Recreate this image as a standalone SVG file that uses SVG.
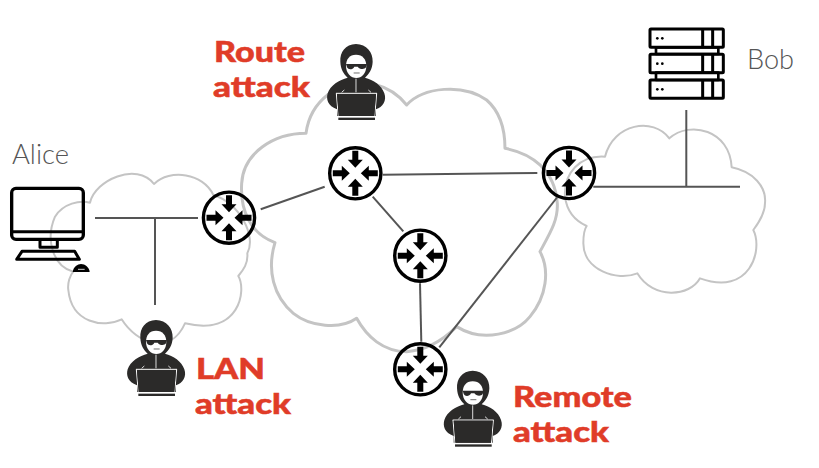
<svg xmlns="http://www.w3.org/2000/svg" xmlns:xlink="http://www.w3.org/1999/xlink" width="819" height="468" viewBox="0 0 819 468">
<style>
.cloud{fill:none;stroke:#c4c4c4;stroke-linejoin:round}
.link{fill:none;stroke:#555;stroke-width:2}
.name{font-family:Lato,"Open Sans",sans-serif;font-weight:300;font-size:28px;fill:#555}
.atk{font-family:Lato,"Open Sans",sans-serif;font-weight:900;font-size:28.500px;fill:#e03c28;stroke:#e03c28;stroke-width:.5}
.ic{fill:none;stroke:#000;stroke-linejoin:round}
</style>
<defs>
<g id="router">
<circle r="25.600" fill="none" stroke="#000" stroke-width="3.400"/>
<g id="ar"><path d="M-3,-22.500H3V-13.500H7.500L0,-5.500L-7.500,-13.500H-3Z" fill="#000"/></g>
<use xlink:href="#ar" transform="rotate(90)"/>
<use xlink:href="#ar" transform="rotate(180)"/>
<use xlink:href="#ar" transform="rotate(270)"/>
</g>
<g id="hacker" transform="scale(.3333)">
<path d="M135,42C103,42 86,68 88,95C89,118 98,132 110,143C85,150 58,165 50,190C45,207 50,228 78,238V258H195V238C215,232 228,212 220,190C212,165 187,150 162,143C174,132 184,118 185,95C186,68 167,42 135,42Z" fill="#2b2a29"/>
<path d="M135,74C115,74 105,88 105,108C105,130 120,144 136,144C152,144 166,130 166,108C166,88 155,74 135,74Z" fill="#fff"/>
<path d="M105,102H168L165,112C160,120 145,118 140,110H130C125,120 112,120 108,112Z" fill="#2b2a29"/>
<path d="M128,129H146" stroke="#2b2a29" stroke-width="2" fill="none"/>
<path d="M135,146V187M92,187L100,180M180,187L172,180" stroke="#fff" stroke-width="2.500" fill="none"/>
<path d="M75,190H198M76,190L82,260M197,190L191,260" stroke="#fff" stroke-width="3" fill="none"/>
<path d="M78,192H195L190,258H83Z" fill="#2b2a29"/>
<rect x="82" y="263" width="110" height="7" fill="#2b2a29"/>
</g>
</defs>
<rect width="819" height="468" fill="#fff"/>
<g id="clouds">
<path id="cloud-left" class="cloud" transform="translate(40,160) scale(.3333)" stroke-width="6" d="M150,128C165,60 290,5 342,72C390,25 490,40 520,105C600,130 650,230 622,280C625,310 610,330 595,348C620,390 600,530 435,490C390,590 290,550 245,478C190,505 95,490 85,390C82,370 90,345 100,335C40,320 15,240 45,170C70,130 120,120 150,128Z"/>
<path id="cloud-mid" class="cloud" transform="translate(230,70) scale(.3333)" stroke-width="9" d="M228,190C240,100 320,20 440,45C480,55 510,80 530,105C580,50 700,40 770,90C810,125 825,180 825,235C905,250 975,300 982,400C985,450 960,490 930,545C960,600 950,680 900,740C860,790 760,820 680,770C650,800 600,840 530,845C460,845 410,800 380,745C330,780 240,770 190,730C130,680 110,600 135,518C60,490 30,420 35,340C40,250 130,190 228,190Z"/>
<path id="cloud-right" class="cloud" transform="translate(550,110) scale(.3333)" stroke-width="6" d="M165,140C190,40 310,20 358,85C420,30 540,60 545,172C610,185 650,230 645,280C645,310 625,340 610,360C640,420 600,560 450,505C420,560 310,570 262,490C200,515 100,480 100,400C100,375 105,355 110,348C70,330 50,300 45,260C40,190 90,135 165,140Z"/>
</g>
<g id="connectors">
<path class="link" d="M95,218H198M155,218V305"/>
<path class="link" d="M260.700,209.300L324.700,186.700"/>
<path class="link" d="M382.700,174.700L537.300,173"/>
<path class="link" d="M372.700,196.700L403.300,231.300"/>
<path class="link" d="M420,283.300L421.300,341.700"/>
<path class="link" d="M439.300,347.300L557,197.500"/>
<path class="link" d="M593.300,186.700H740M686.300,110V186.700"/>
</g>
<g id="router-1"><use xlink:href="#router" transform="translate(229,217.700)"/></g>
<g id="router-2"><use xlink:href="#router" transform="translate(355.300,173.300)"/></g>
<g id="router-3"><use xlink:href="#router" transform="translate(420.300,255.700)"/></g>
<g id="router-4"><use xlink:href="#router" transform="translate(420.300,369.300)"/></g>
<g id="router-5"><use xlink:href="#router" transform="translate(569,173)"/></g>
<g id="alice">
<text class="name" x="12" y="164" textLength="57" lengthAdjust="spacingAndGlyphs">Alice</text>
<g transform="translate(0,170) scale(.3333)">
<rect class="ic" x="35" y="55" width="215" height="153" rx="13" stroke-width="10"/>
<path class="ic" stroke-width="9" d="M35,185H250M120,208V232H172V208M66,244H224L238,268H50Z"/>
<path d="M218,306C220,290 233,282 243,282C255,282 268,292 269,306Z" fill="#000"/>
<path d="M234,298H254" stroke="#fff" stroke-width="2.500"/>
</g>
</g>
<g id="bob">
<text class="name" x="747" y="69" textLength="47" lengthAdjust="spacingAndGlyphs">Bob</text>
<g transform="translate(640,20) scale(.3333)">
<rect class="ic" x="48" y="82" width="187" height="20" stroke-width="8"/>
<rect class="ic" x="48" y="158" width="187" height="22" stroke-width="8"/>
<g id="srv-row"><rect class="ic" x="30" y="27" width="220" height="55" rx="3" stroke-width="9" fill="#fff"/><path class="ic" stroke-width="9" d="M188,27V82M218,27V82"/><circle cx="52" cy="55" r="4"/><circle cx="67" cy="55" r="4"/></g>
<use xlink:href="#srv-row" y="76"/>
<use xlink:href="#srv-row" y="153"/>
</g>
</g>
<g id="route-attack">
<use xlink:href="#hacker" transform="translate(311,30)"/>
<text class="atk" x="214" y="62" textLength="91" lengthAdjust="spacingAndGlyphs">Route</text>
<text class="atk" x="213" y="97" textLength="97" lengthAdjust="spacingAndGlyphs">attack</text>
</g>
<g id="lan-attack">
<use xlink:href="#hacker" transform="translate(111,306)"/>
<text class="atk" x="196" y="379" textLength="69" lengthAdjust="spacingAndGlyphs">LAN</text>
<text class="atk" x="195" y="414" textLength="96" lengthAdjust="spacingAndGlyphs">attack</text>
</g>
<g id="remote-attack">
<use xlink:href="#hacker" transform="translate(427.700,356.700)"/>
<text class="atk" x="513" y="407" textLength="119" lengthAdjust="spacingAndGlyphs">Remote</text>
<text class="atk" x="513" y="442" textLength="96" lengthAdjust="spacingAndGlyphs">attack</text>
</g>
</svg>
